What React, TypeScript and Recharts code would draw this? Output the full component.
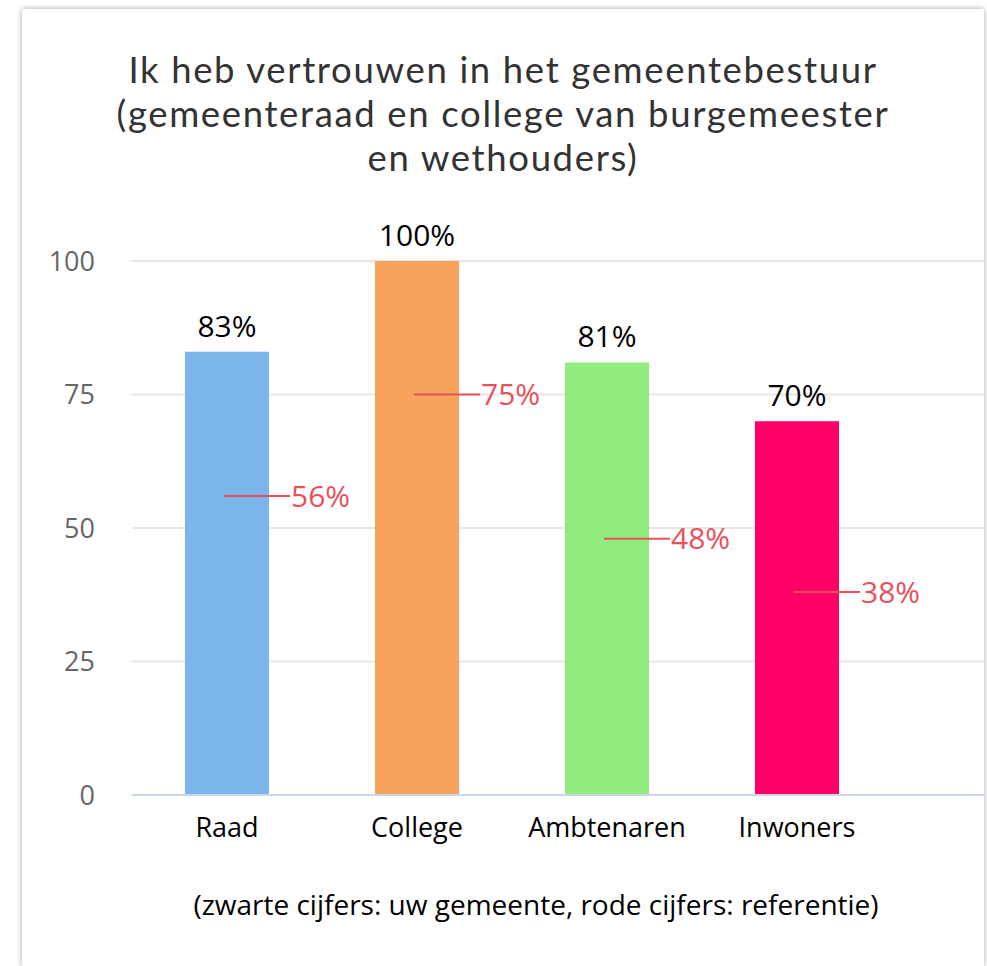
import { ComposedChart, Bar, Line, XAxis, YAxis, CartesianGrid, Cell, LabelList } from "recharts";

const categories = ["Raad", "College", "Ambtenaren", "Inwoners"];
const municipality = [83, 100, 81, 70];
const reference = [56, 75, 48, 38];
const barColors = ["#7cb5ec", "#f7a35c", "#90ed7d", "#ff0066"];
const yTicks = [0, 25, 50, 75, 100];

const titleLines = [
  "Ik heb vertrouwen in het gemeentebestuur",
  "(gemeenteraad en college van burgemeester",
  "en wethouders)",
];
const footnote = "(zwarte cijfers: uw gemeente, rode cijfers: referentie)";

const RED = "#e8505b";

const data = categories.map((name, i) => ({
  name,
  municipality: municipality[i],
  reference: reference[i],
}));

// short red marker from the bar centre to the right, with its value
const ReferenceMark = (props: any) => {
  const { cx, cy, value, index } = props;
  if (cx == null || cy == null) return null;
  return (
    <g key={`ref-${index}`}>
      <line x1={cx - 3} y1={cy} x2={cx + 63} y2={cy} stroke={RED} strokeWidth={2} />
      <text x={cx + 64} y={cy} dy="0.36em" fill={RED} fontSize={30} textAnchor="start">
        {`${value}%`}
      </text>
    </g>
  );
};

export default function App() {
  return (
    <div
      style={{
        position: "absolute",
        left: 22,
        top: 9,
        width: 962,
        height: 957,
        background: "#fff",
        boxShadow: "0 0 6px rgba(0,0,0,0.35)",
        fontFamily: "'Open Sans', sans-serif",
      }}
    >
      <div
        style={{
          position: "absolute",
          top: 38,
          left: 0,
          width: 962,
          textAlign: "center",
          fontFamily: "Lato, sans-serif",
          fontSize: 36.5,
          letterSpacing: 1.65,
          lineHeight: "44px",
          color: "#333",
        }}
      >
        {titleLines.map((t) => (
          <div key={t}>{t}</div>
        ))}
      </div>
      <ComposedChart
        width={962}
        height={957}
        data={data}
        margin={{ top: 252, right: 0, bottom: 111, left: 50 }}
      >
        <CartesianGrid vertical={false} stroke="#e6e6e6" strokeWidth={2} />
        <XAxis
          dataKey="name"
          padding={{ left: 0, right: 92 }}
          axisLine={{ stroke: "#ccd6eb", strokeWidth: 2 }}
          tickLine={false}
          tickSize={0}
          tickMargin={23}
          height={60}
          tick={{ fill: "#000", fontSize: 27 }}
        />
        <YAxis
          domain={[0, 100]}
          ticks={yTicks}
          width={60}
          axisLine={false}
          tickLine={false}
          tickSize={0}
          tickMargin={37}
          tick={{ fill: "#666", fontSize: 27 }}
        />
        <Bar dataKey="municipality" barSize={84} isAnimationActive={false}>
          {data.map((d, i) => (
            <Cell key={d.name} fill={barColors[i]} />
          ))}
          <LabelList
            dataKey="municipality"
            position="top"
            offset={15}
            fill="#000"
            fontSize={30}
            formatter={(v: any) => `${v}%`}
          />
        </Bar>
        <Line
          dataKey="reference"
          stroke="none"
          dot={ReferenceMark}
          activeDot={false}
          isAnimationActive={false}
        />
      </ComposedChart>
      <div
        style={{
          position: "absolute",
          top: 878,
          left: 514,
          transform: "translateX(-50%)",
          whiteSpace: "nowrap",
          fontSize: 28,
          lineHeight: "35px",
          color: "#000",
        }}
      >
        {footnote}
      </div>
    </div>
  );
}
